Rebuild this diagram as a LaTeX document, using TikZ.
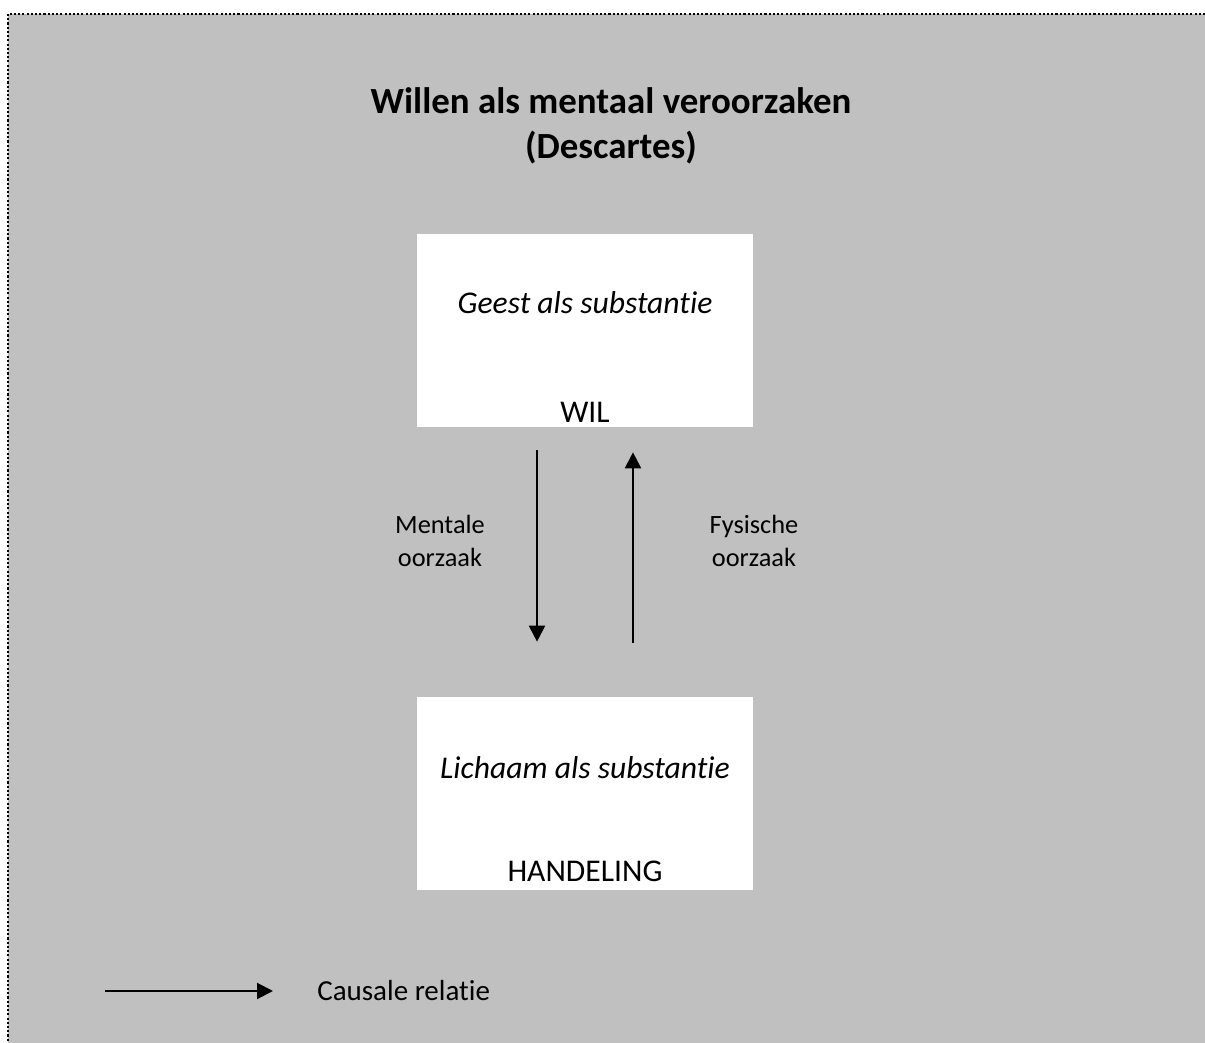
\documentclass[tikz,border=0pt]{standalone}
\usepackage{fontspec}
\setmainfont{Carlito}[Ligatures=NoCommon]
\usetikzlibrary{arrows.meta}

\tikzset{
  vlak/.style={fill=white, minimum width=6.72cm, minimum height=3.86cm, inner sep=0pt},
  causaal/.style={line width=1.15pt, -{Triangle[length=0.32cm,width=0.32cm]}},
  tekst/.style={font=\fontsize{18}{21}\selectfont, inner sep=0pt},
  pijltekst/.style={font=\fontsize{15}{18.7}\selectfont, align=center, inner sep=0pt}
}

\begin{document}
\begin{tikzpicture}[x=0.02cm, y=-0.02cm]
	
	\useasboundingbox (0,0) rectangle (1205,1043);
	\clip (0,0) rectangle (1205,1043);
	\draw[fill={rgb,255:red,192;green,192;blue,192}, line width=1.2pt, dash pattern=on 1.2pt off 1.2pt] (8,14) rectangle (1300,1100);
	
	% titel
	\node[font=\bfseries\fontsize{21}{25.5}\selectfont, align=center] (titel) at (611,126) {Willen als mentaal veroorzaken\\(Descartes)};
	
	% geest
	\node[vlak] (geest) at (585,330.5) {};
	\node[tekst] (geestnaam) at (585,303) {\itshape Geest als substantie};
	\node[tekst] (wil) at (585,412) {WIL};
	
	% lichaam
	\node[vlak] (lichaam) at (585,793.5) {};
	\node[tekst] (lichaamnaam) at (585,768) {\itshape Lichaam als substantie};
	\node[tekst] (handeling) at (585,871) {HANDELING};
	
	% oorzaken
	\draw[causaal, shorten <=0.46cm, shorten >=1.1cm] ([xshift=-0.96cm]geest.south) -- ([xshift=-0.96cm]lichaam.north);
	\draw[causaal, shorten <=1.08cm, shorten >=0.5cm] ([xshift=0.96cm]lichaam.north) -- ([xshift=0.96cm]geest.south);
	\node[pijltekst] (mentaal) at (440,541) {Mentale\\oorzaak};
	\node[pijltekst] (fysisch) at (754,541) {Fysische\\oorzaak};
	
	% legenda
	\coordinate (legbegin) at (105,991);
	\coordinate (legeind) at (273,991);
	\draw[causaal] (legbegin) -- (legeind);
	\node[tekst, font=\fontsize{16.5}{20}\selectfont, anchor=west] (legenda) at (317,991) {Causale relatie};
	
\end{tikzpicture}
\end{document}
